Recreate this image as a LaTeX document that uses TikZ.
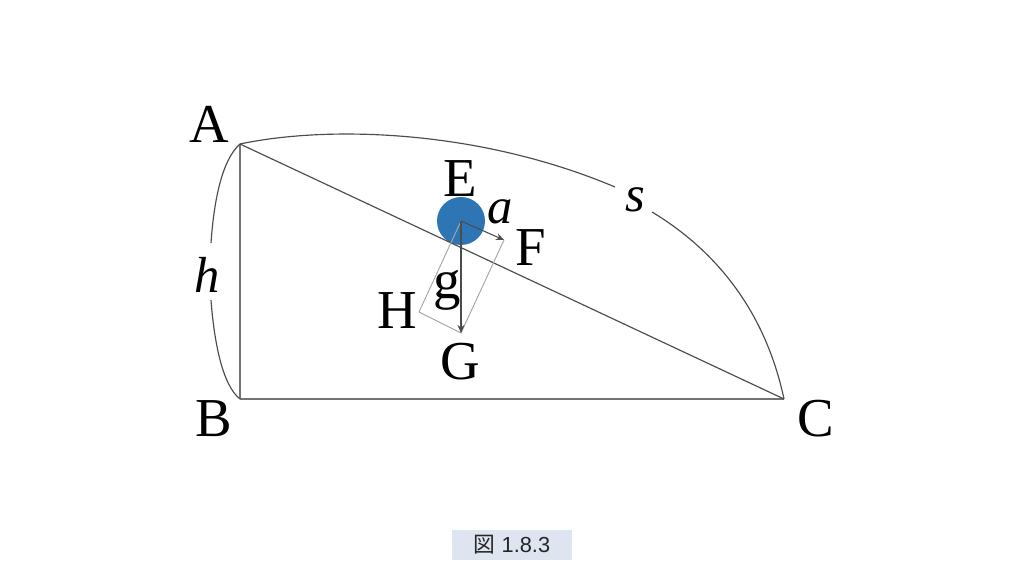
\documentclass[tikz,border=0pt]{standalone}
\usepackage{fontspec}
\setmainfont{Liberation Serif}
\newfontfamily\capfont{Liberation Sans}
\newfontfamily\cjkfont{Noto Sans CJK JP}
\usetikzlibrary{arrows.meta}
\definecolor{ballblue}{HTML}{2E75B6}
\definecolor{capfill}{HTML}{DEE5F0}
\definecolor{capink}{HTML}{262626}
\tikzset{
  letter/.style={font=\fontsize{15.6}{15.6}\selectfont, inner sep=0pt},
  mathletter/.style={font=\fontsize{14.4}{14.4}\selectfont\itshape, inner sep=0pt},
  edge/.style={draw=black!70, line width=0.33pt},
  rim/.style={draw=black!55, line width=0.33pt},
  force/.style={draw=black!70, line width=0.3pt, -{Stealth[length=2.3pt,width=2pt]}},
  guide/.style={draw=black!35, line width=0.27pt}
}
\begin{document}
\begin{tikzpicture}[x=0.01cm,y=-0.01cm]
  \useasboundingbox (0,0) rectangle (1024,576);
  \coordinate (A) at (240,144);
  \coordinate (B) at (240,399);
  \coordinate (C) at (784,399);
  \coordinate (E) at (461,221);
  \coordinate (F) at (504,240);
  \coordinate (G) at (461,333);
  \coordinate (H) at (419,312);
  % ends of the arcs at the gaps
  \coordinate (h1) at (211,243);
  \coordinate (h2) at (211,300);
  \coordinate (s1) at (615,187);
  \coordinate (s2) at (652,212);
  \fill[ballblue] (E) circle (24);
  \draw[rim] (A) -- (B);
  \draw[rim] (B) -- (C);
  \draw[edge] (A) -- (C);
  \draw[edge] (A) .. controls (222,160) and (214,200) .. (h1);
  \draw[edge] (h2) .. controls (214,340) and (222,385) .. (B);
  \draw[edge] (A) .. controls (330,125) and (480,130) .. (s1);
  \draw[edge] (s2) .. controls (715,250) and (765,310) .. (C);
  \draw[guide] (E) -- (H);
  \draw[guide] (H) -- (G);
  \draw[guide] (F) -- (G);
  \draw[force] (E) -- (F);
  \draw[force] (E) -- (G);
  \node[letter] (la) at (209,124) {A};
  \node[letter] (lb) at (214,419) {B};
  \node[letter] (lc) at (816,419) {C};
  \node[letter] (le) at (460,179) {E};
  \node[letter] (lf) at (531,248) {F};
  \node[letter] (lg) at (460,362) {G};
  \node[letter] (lh) at (397,311) {H};
  \node[mathletter] (vh) at (207,275) {h};
  \node[mathletter] (vs) at (635,200) {s};
  \node[mathletter] (va) at (500,212) {a};
  \node[letter] (vg) at (447,290) {g};
  \node[fill=capfill, minimum width=1.2cm, minimum height=0.3cm, inner sep=0pt, text=capink,
    font=\capfont\fontsize{6.2}{6.2}\selectfont] (cap) at (512,545) {{\cjkfont 図} 1.8.3};
\end{tikzpicture}
\end{document}
